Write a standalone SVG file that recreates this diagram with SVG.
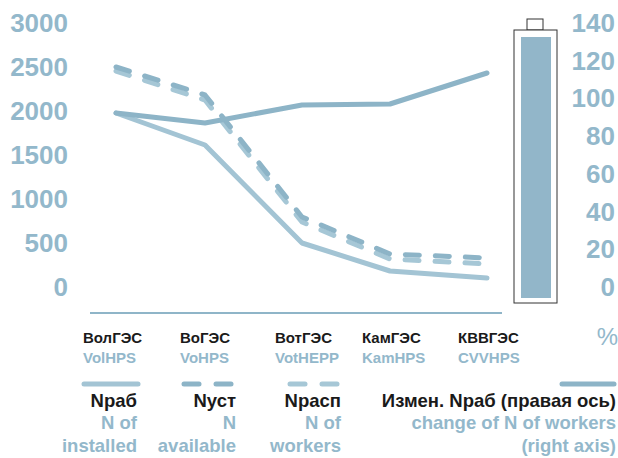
<svg xmlns="http://www.w3.org/2000/svg" width="618" height="458" viewBox="0 0 618 458">
<style>
.ax{font-family:"Liberation Sans",Arial,sans-serif;font-weight:bold;font-size:26px;fill:#93b8cb;text-anchor:end}
.cat{font-family:"Liberation Sans",Arial,sans-serif;font-weight:bold;font-size:15px;fill:#1a1a1a}
.catb{font-family:"Liberation Sans",Arial,sans-serif;font-weight:bold;font-size:15px;fill:#93b8cb}
.lg{font-family:"Liberation Sans",Arial,sans-serif;font-weight:bold;font-size:18.5px;fill:#1a1a1a;text-anchor:end}
.lgb{font-family:"Liberation Sans",Arial,sans-serif;font-weight:bold;font-size:18.5px;fill:#93b8cb;text-anchor:end}
.ln{fill:none;stroke-width:5;stroke-linecap:round;stroke-linejoin:round}
.dash{stroke-dasharray:14 16}
</style>
<rect width="618" height="458" fill="#ffffff"/>
<g id="left-axis">
<text class="ax" x="68" y="32">3000</text>
<text class="ax" x="68" y="76">2500</text>
<text class="ax" x="68" y="120">2000</text>
<text class="ax" x="68" y="164">1500</text>
<text class="ax" x="68" y="208">1000</text>
<text class="ax" x="68" y="252">500</text>
<text class="ax" x="68" y="296">0</text>
</g>
<g id="right-axis">
<text class="ax" x="615" y="32">140</text>
<text class="ax" x="615" y="70">120</text>
<text class="ax" x="615" y="107">100</text>
<text class="ax" x="615" y="145">80</text>
<text class="ax" x="615" y="183">60</text>
<text class="ax" x="615" y="221">40</text>
<text class="ax" x="615" y="258">20</text>
<text class="ax" x="615" y="296">0</text>
<text x="618" y="345" style="font-family:'Liberation Sans',Arial,sans-serif;font-size:24px;fill:#93b8cb;text-anchor:end">%</text>
</g>
<g id="baseline">
<line x1="90" y1="313" x2="502" y2="313" stroke="#8fb5c8" stroke-width="2"/>
</g>
<g id="bar">
<rect x="527" y="19" width="16" height="11" fill="#fff" stroke="#333" stroke-width="1"/>
<rect x="514" y="30" width="43" height="273" fill="#fff" stroke="#333" stroke-width="1"/>
<rect x="521" y="37" width="30" height="261" fill="#92b6c9"/>
</g>
<g id="connectors">
<polyline class="ln dash" stroke="#a6c7d6" points="116,71 205,100 302,222 390,259 487,264"/>
<polyline class="ln dash" stroke="#8db4c7" points="116,67 205,95 302,217 390,254 487,258"/>
<polyline class="ln" stroke="#a3c4d4" points="116,113 205,145 302,243 390,271 487,278"/>
<polyline class="ln" stroke="#8db4c7" points="116,113 205,123 302,105 390,104 487,73"/>
</g>
<g id="categories">
<text class="cat" x="83" y="343">ВолГЭС</text>
<text class="catb" x="83" y="363">VolHPS</text>
<text class="cat" x="180" y="343">ВоГЭС</text>
<text class="catb" x="180" y="363">VoHPS</text>
<text class="cat" x="275" y="343">ВотГЭС</text>
<text class="catb" x="275" y="363">VotHEPP</text>
<text class="cat" x="362" y="343">КамГЭС</text>
<text class="catb" x="362" y="363">KamHPS</text>
<text class="cat" x="458" y="343">КВВГЭС</text>
<text class="catb" x="458" y="363">CVVHPS</text>
</g>
<g id="legend-nrab">
<line class="ln" stroke="#a3c4d4" x1="84" y1="384" x2="138" y2="384"/>
<text class="lg" x="137" y="407">Nраб</text>
<text class="lgb" x="137" y="429">N of</text>
<text class="lgb" x="137" y="452">installed</text>
</g>
<g id="legend-nust">
<line class="ln" stroke="#8db4c7" x1="184" y1="384" x2="199" y2="384"/>
<line class="ln" stroke="#8db4c7" x1="216" y1="384" x2="231" y2="384"/>
<text class="lg" x="236" y="407">Nуст</text>
<text class="lgb" x="236" y="429">N</text>
<text class="lgb" x="236" y="452">available</text>
</g>
<g id="legend-nrasp">
<line class="ln" stroke="#a6c7d6" x1="290" y1="384" x2="305" y2="384"/>
<line class="ln" stroke="#a6c7d6" x1="322" y1="384" x2="337" y2="384"/>
<text class="lg" x="341" y="407">Nрасп</text>
<text class="lgb" x="341" y="429">N of</text>
<text class="lgb" x="341" y="452">workers</text>
</g>
<g id="legend-change">
<line class="ln" stroke="#8db4c7" x1="562" y1="384" x2="614" y2="384"/>
<text class="lg" x="616" y="407">Измен. Nраб (правая ось)</text>
<text class="lgb" x="616" y="429">change of N of workers</text>
<text class="lgb" x="616" y="452">(right axis)</text>
</g>
</svg>
